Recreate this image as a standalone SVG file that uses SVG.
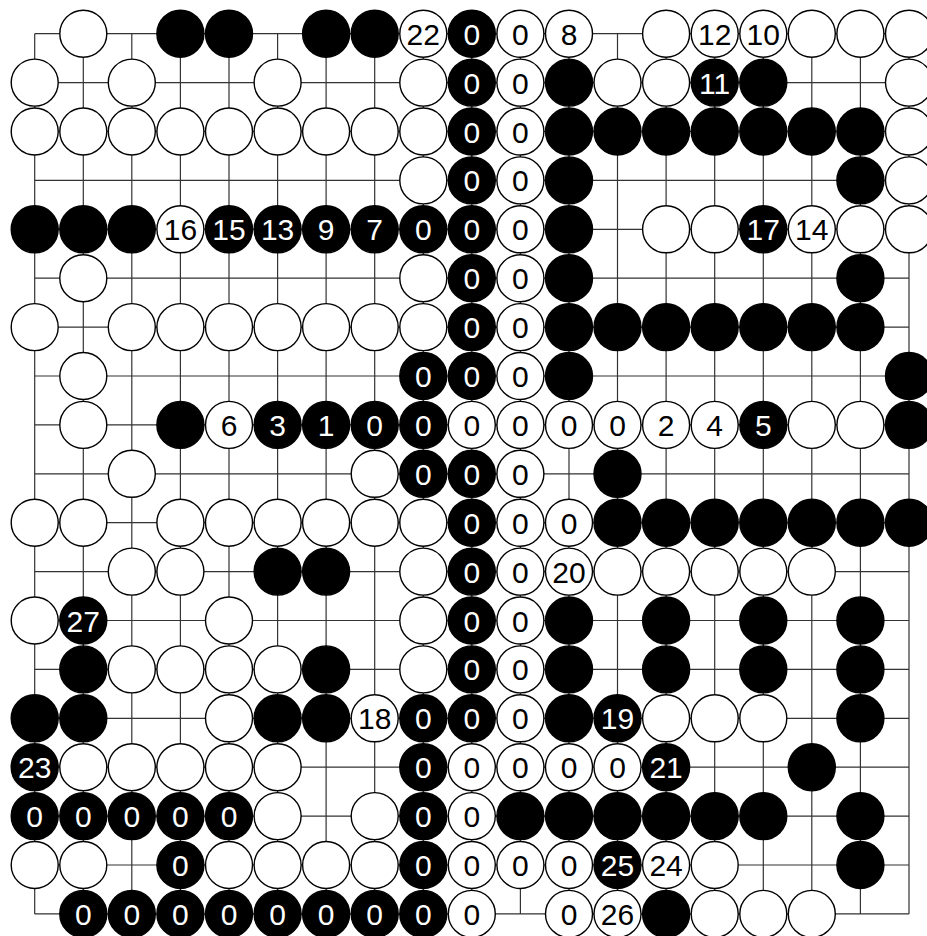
<svg xmlns="http://www.w3.org/2000/svg" width="927" height="936" viewBox="0 0 927 936">
<style>
.w circle{fill:#fff;stroke:#000;stroke-width:1.4}
.b circle{fill:#000;stroke:#000;stroke-width:1.4}
text{font-family:"Liberation Sans",Arial,Helvetica,sans-serif;font-size:30px;text-anchor:middle}
.w text{fill:#000}
.b text{fill:#fff}
#grid path{fill:none;stroke:#333;stroke-width:1.2}
</style>
<defs><circle id="st" r="23.5"/></defs>
<rect width="927" height="936" fill="#fff"/>
<g id="grid">
<path d="M34.7 33.7V913.9M83.3 33.7V913.9M131.8 33.7V913.9M180.4 33.7V913.9M229 33.7V913.9M277.6 33.7V913.9M326.1 33.7V913.9M374.7 33.7V913.9M423.3 33.7V913.9M471.8 33.7V913.9M520.4 33.7V913.9M569 33.7V913.9M617.5 33.7V913.9M666.1 33.7V913.9M714.7 33.7V913.9M763.3 33.7V913.9M811.8 33.7V913.9M860.4 33.7V913.9M909 33.7V913.9"/>
<path d="M34.7 33.7H909M34.7 82.6H909M34.7 131.5H909M34.7 180.4H909M34.7 229.3H909M34.7 278.2H909M34.7 327.1H909M34.7 376H909M34.7 424.9H909M34.7 473.8H909M34.7 522.7H909M34.7 571.6H909M34.7 620.5H909M34.7 669.4H909M34.7 718.3H909M34.7 767.2H909M34.7 816.1H909M34.7 865H909M34.7 913.9H909"/>
</g>
<g id="stones">
<!-- row 1 -->
<g id="r1c2" class="w" transform="translate(83.3,33.7)"><circle r="23.5"/></g>
<g id="r1c4" class="b" transform="translate(180.4,33.7)"><circle r="23.5"/></g>
<g id="r1c5" class="b" transform="translate(229,33.7)"><circle r="23.5"/></g>
<g id="r1c7" class="b" transform="translate(326.1,33.7)"><circle r="23.5"/></g>
<g id="r1c8" class="b" transform="translate(374.7,33.7)"><circle r="23.5"/></g>
<g id="r1c9" class="w" transform="translate(423.3,33.7)"><circle r="23.5"/><text y="11">22</text></g>
<g id="r1c10" class="b" transform="translate(471.8,33.7)"><circle r="23.5"/><text y="11">0</text></g>
<g id="r1c11" class="w" transform="translate(520.4,33.7)"><circle r="23.5"/><text y="11">0</text></g>
<g id="r1c12" class="w" transform="translate(569,33.7)"><circle r="23.5"/><text y="11">8</text></g>
<g id="r1c14" class="w" transform="translate(666.1,33.7)"><circle r="23.5"/></g>
<g id="r1c15" class="w" transform="translate(714.7,33.7)"><circle r="23.5"/><text y="11">12</text></g>
<g id="r1c16" class="w" transform="translate(763.3,33.7)"><circle r="23.5"/><text y="11">10</text></g>
<g id="r1c17" class="w" transform="translate(811.8,33.7)"><circle r="23.5"/></g>
<g id="r1c18" class="w" transform="translate(860.4,33.7)"><circle r="23.5"/></g>
<g id="r1c19" class="w" transform="translate(909,33.7)"><circle r="23.5"/></g>
<!-- row 2 -->
<g id="r2c1" class="w" transform="translate(34.7,82.6)"><circle r="23.5"/></g>
<g id="r2c3" class="w" transform="translate(131.8,82.6)"><circle r="23.5"/></g>
<g id="r2c6" class="w" transform="translate(277.6,82.6)"><circle r="23.5"/></g>
<g id="r2c9" class="w" transform="translate(423.3,82.6)"><circle r="23.5"/></g>
<g id="r2c10" class="b" transform="translate(471.8,82.6)"><circle r="23.5"/><text y="11">0</text></g>
<g id="r2c11" class="w" transform="translate(520.4,82.6)"><circle r="23.5"/><text y="11">0</text></g>
<g id="r2c12" class="b" transform="translate(569,82.6)"><circle r="23.5"/></g>
<g id="r2c13" class="w" transform="translate(617.5,82.6)"><circle r="23.5"/></g>
<g id="r2c14" class="w" transform="translate(666.1,82.6)"><circle r="23.5"/></g>
<g id="r2c15" class="b" transform="translate(714.7,82.6)"><circle r="23.5"/><text y="11">11</text></g>
<g id="r2c16" class="b" transform="translate(763.3,82.6)"><circle r="23.5"/></g>
<g id="r2c19" class="w" transform="translate(909,82.6)"><circle r="23.5"/></g>
<!-- row 3 -->
<g id="r3c1" class="w" transform="translate(34.7,131.5)"><circle r="23.5"/></g>
<g id="r3c2" class="w" transform="translate(83.3,131.5)"><circle r="23.5"/></g>
<g id="r3c3" class="w" transform="translate(131.8,131.5)"><circle r="23.5"/></g>
<g id="r3c4" class="w" transform="translate(180.4,131.5)"><circle r="23.5"/></g>
<g id="r3c5" class="w" transform="translate(229,131.5)"><circle r="23.5"/></g>
<g id="r3c6" class="w" transform="translate(277.6,131.5)"><circle r="23.5"/></g>
<g id="r3c7" class="w" transform="translate(326.1,131.5)"><circle r="23.5"/></g>
<g id="r3c8" class="w" transform="translate(374.7,131.5)"><circle r="23.5"/></g>
<g id="r3c9" class="w" transform="translate(423.3,131.5)"><circle r="23.5"/></g>
<g id="r3c10" class="b" transform="translate(471.8,131.5)"><circle r="23.5"/><text y="11">0</text></g>
<g id="r3c11" class="w" transform="translate(520.4,131.5)"><circle r="23.5"/><text y="11">0</text></g>
<g id="r3c12" class="b" transform="translate(569,131.5)"><circle r="23.5"/></g>
<g id="r3c13" class="b" transform="translate(617.5,131.5)"><circle r="23.5"/></g>
<g id="r3c14" class="b" transform="translate(666.1,131.5)"><circle r="23.5"/></g>
<g id="r3c15" class="b" transform="translate(714.7,131.5)"><circle r="23.5"/></g>
<g id="r3c16" class="b" transform="translate(763.3,131.5)"><circle r="23.5"/></g>
<g id="r3c17" class="b" transform="translate(811.8,131.5)"><circle r="23.5"/></g>
<g id="r3c18" class="b" transform="translate(860.4,131.5)"><circle r="23.5"/></g>
<g id="r3c19" class="w" transform="translate(909,131.5)"><circle r="23.5"/></g>
<!-- row 4 -->
<g id="r4c9" class="w" transform="translate(423.3,180.4)"><circle r="23.5"/></g>
<g id="r4c10" class="b" transform="translate(471.8,180.4)"><circle r="23.5"/><text y="11">0</text></g>
<g id="r4c11" class="w" transform="translate(520.4,180.4)"><circle r="23.5"/><text y="11">0</text></g>
<g id="r4c12" class="b" transform="translate(569,180.4)"><circle r="23.5"/></g>
<g id="r4c18" class="b" transform="translate(860.4,180.4)"><circle r="23.5"/></g>
<g id="r4c19" class="w" transform="translate(909,180.4)"><circle r="23.5"/></g>
<!-- row 5 -->
<g id="r5c1" class="b" transform="translate(34.7,229.3)"><circle r="23.5"/></g>
<g id="r5c2" class="b" transform="translate(83.3,229.3)"><circle r="23.5"/></g>
<g id="r5c3" class="b" transform="translate(131.8,229.3)"><circle r="23.5"/></g>
<g id="r5c4" class="w" transform="translate(180.4,229.3)"><circle r="23.5"/><text y="11">16</text></g>
<g id="r5c5" class="b" transform="translate(229,229.3)"><circle r="23.5"/><text y="11">15</text></g>
<g id="r5c6" class="b" transform="translate(277.6,229.3)"><circle r="23.5"/><text y="11">13</text></g>
<g id="r5c7" class="b" transform="translate(326.1,229.3)"><circle r="23.5"/><text y="11">9</text></g>
<g id="r5c8" class="b" transform="translate(374.7,229.3)"><circle r="23.5"/><text y="11">7</text></g>
<g id="r5c9" class="b" transform="translate(423.3,229.3)"><circle r="23.5"/><text y="11">0</text></g>
<g id="r5c10" class="b" transform="translate(471.8,229.3)"><circle r="23.5"/><text y="11">0</text></g>
<g id="r5c11" class="w" transform="translate(520.4,229.3)"><circle r="23.5"/><text y="11">0</text></g>
<g id="r5c12" class="b" transform="translate(569,229.3)"><circle r="23.5"/></g>
<g id="r5c14" class="w" transform="translate(666.1,229.3)"><circle r="23.5"/></g>
<g id="r5c15" class="w" transform="translate(714.7,229.3)"><circle r="23.5"/></g>
<g id="r5c16" class="b" transform="translate(763.3,229.3)"><circle r="23.5"/><text y="11">17</text></g>
<g id="r5c17" class="w" transform="translate(811.8,229.3)"><circle r="23.5"/><text y="11">14</text></g>
<g id="r5c18" class="w" transform="translate(860.4,229.3)"><circle r="23.5"/></g>
<g id="r5c19" class="w" transform="translate(909,229.3)"><circle r="23.5"/></g>
<!-- row 6 -->
<g id="r6c2" class="w" transform="translate(83.3,278.2)"><circle r="23.5"/></g>
<g id="r6c9" class="w" transform="translate(423.3,278.2)"><circle r="23.5"/></g>
<g id="r6c10" class="b" transform="translate(471.8,278.2)"><circle r="23.5"/><text y="11">0</text></g>
<g id="r6c11" class="w" transform="translate(520.4,278.2)"><circle r="23.5"/><text y="11">0</text></g>
<g id="r6c12" class="b" transform="translate(569,278.2)"><circle r="23.5"/></g>
<g id="r6c18" class="b" transform="translate(860.4,278.2)"><circle r="23.5"/></g>
<!-- row 7 -->
<g id="r7c1" class="w" transform="translate(34.7,327.1)"><circle r="23.5"/></g>
<g id="r7c3" class="w" transform="translate(131.8,327.1)"><circle r="23.5"/></g>
<g id="r7c4" class="w" transform="translate(180.4,327.1)"><circle r="23.5"/></g>
<g id="r7c5" class="w" transform="translate(229,327.1)"><circle r="23.5"/></g>
<g id="r7c6" class="w" transform="translate(277.6,327.1)"><circle r="23.5"/></g>
<g id="r7c7" class="w" transform="translate(326.1,327.1)"><circle r="23.5"/></g>
<g id="r7c8" class="w" transform="translate(374.7,327.1)"><circle r="23.5"/></g>
<g id="r7c9" class="w" transform="translate(423.3,327.1)"><circle r="23.5"/></g>
<g id="r7c10" class="b" transform="translate(471.8,327.1)"><circle r="23.5"/><text y="11">0</text></g>
<g id="r7c11" class="w" transform="translate(520.4,327.1)"><circle r="23.5"/><text y="11">0</text></g>
<g id="r7c12" class="b" transform="translate(569,327.1)"><circle r="23.5"/></g>
<g id="r7c13" class="b" transform="translate(617.5,327.1)"><circle r="23.5"/></g>
<g id="r7c14" class="b" transform="translate(666.1,327.1)"><circle r="23.5"/></g>
<g id="r7c15" class="b" transform="translate(714.7,327.1)"><circle r="23.5"/></g>
<g id="r7c16" class="b" transform="translate(763.3,327.1)"><circle r="23.5"/></g>
<g id="r7c17" class="b" transform="translate(811.8,327.1)"><circle r="23.5"/></g>
<g id="r7c18" class="b" transform="translate(860.4,327.1)"><circle r="23.5"/></g>
<!-- row 8 -->
<g id="r8c2" class="w" transform="translate(83.3,376)"><circle r="23.5"/></g>
<g id="r8c9" class="b" transform="translate(423.3,376)"><circle r="23.5"/><text y="11">0</text></g>
<g id="r8c10" class="b" transform="translate(471.8,376)"><circle r="23.5"/><text y="11">0</text></g>
<g id="r8c11" class="w" transform="translate(520.4,376)"><circle r="23.5"/><text y="11">0</text></g>
<g id="r8c12" class="b" transform="translate(569,376)"><circle r="23.5"/></g>
<g id="r8c19" class="b" transform="translate(909,376)"><circle r="23.5"/></g>
<!-- row 9 -->
<g id="r9c2" class="w" transform="translate(83.3,424.9)"><circle r="23.5"/></g>
<g id="r9c4" class="b" transform="translate(180.4,424.9)"><circle r="23.5"/></g>
<g id="r9c5" class="w" transform="translate(229,424.9)"><circle r="23.5"/><text y="11">6</text></g>
<g id="r9c6" class="b" transform="translate(277.6,424.9)"><circle r="23.5"/><text y="11">3</text></g>
<g id="r9c7" class="b" transform="translate(326.1,424.9)"><circle r="23.5"/><text y="11">1</text></g>
<g id="r9c8" class="b" transform="translate(374.7,424.9)"><circle r="23.5"/><text y="11">0</text></g>
<g id="r9c9" class="b" transform="translate(423.3,424.9)"><circle r="23.5"/><text y="11">0</text></g>
<g id="r9c10" class="w" transform="translate(471.8,424.9)"><circle r="23.5"/><text y="11">0</text></g>
<g id="r9c11" class="w" transform="translate(520.4,424.9)"><circle r="23.5"/><text y="11">0</text></g>
<g id="r9c12" class="w" transform="translate(569,424.9)"><circle r="23.5"/><text y="11">0</text></g>
<g id="r9c13" class="w" transform="translate(617.5,424.9)"><circle r="23.5"/><text y="11">0</text></g>
<g id="r9c14" class="w" transform="translate(666.1,424.9)"><circle r="23.5"/><text y="11">2</text></g>
<g id="r9c15" class="w" transform="translate(714.7,424.9)"><circle r="23.5"/><text y="11">4</text></g>
<g id="r9c16" class="b" transform="translate(763.3,424.9)"><circle r="23.5"/><text y="11">5</text></g>
<g id="r9c17" class="w" transform="translate(811.8,424.9)"><circle r="23.5"/></g>
<g id="r9c18" class="w" transform="translate(860.4,424.9)"><circle r="23.5"/></g>
<g id="r9c19" class="b" transform="translate(909,424.9)"><circle r="23.5"/></g>
<!-- row 10 -->
<g id="r10c3" class="w" transform="translate(131.8,473.8)"><circle r="23.5"/></g>
<g id="r10c8" class="w" transform="translate(374.7,473.8)"><circle r="23.5"/></g>
<g id="r10c9" class="b" transform="translate(423.3,473.8)"><circle r="23.5"/><text y="11">0</text></g>
<g id="r10c10" class="b" transform="translate(471.8,473.8)"><circle r="23.5"/><text y="11">0</text></g>
<g id="r10c11" class="w" transform="translate(520.4,473.8)"><circle r="23.5"/><text y="11">0</text></g>
<g id="r10c13" class="b" transform="translate(617.5,473.8)"><circle r="23.5"/></g>
<!-- row 11 -->
<g id="r11c1" class="w" transform="translate(34.7,522.7)"><circle r="23.5"/></g>
<g id="r11c2" class="w" transform="translate(83.3,522.7)"><circle r="23.5"/></g>
<g id="r11c4" class="w" transform="translate(180.4,522.7)"><circle r="23.5"/></g>
<g id="r11c5" class="w" transform="translate(229,522.7)"><circle r="23.5"/></g>
<g id="r11c6" class="w" transform="translate(277.6,522.7)"><circle r="23.5"/></g>
<g id="r11c7" class="w" transform="translate(326.1,522.7)"><circle r="23.5"/></g>
<g id="r11c8" class="w" transform="translate(374.7,522.7)"><circle r="23.5"/></g>
<g id="r11c9" class="w" transform="translate(423.3,522.7)"><circle r="23.5"/></g>
<g id="r11c10" class="b" transform="translate(471.8,522.7)"><circle r="23.5"/><text y="11">0</text></g>
<g id="r11c11" class="w" transform="translate(520.4,522.7)"><circle r="23.5"/><text y="11">0</text></g>
<g id="r11c12" class="w" transform="translate(569,522.7)"><circle r="23.5"/><text y="11">0</text></g>
<g id="r11c13" class="b" transform="translate(617.5,522.7)"><circle r="23.5"/></g>
<g id="r11c14" class="b" transform="translate(666.1,522.7)"><circle r="23.5"/></g>
<g id="r11c15" class="b" transform="translate(714.7,522.7)"><circle r="23.5"/></g>
<g id="r11c16" class="b" transform="translate(763.3,522.7)"><circle r="23.5"/></g>
<g id="r11c17" class="b" transform="translate(811.8,522.7)"><circle r="23.5"/></g>
<g id="r11c18" class="b" transform="translate(860.4,522.7)"><circle r="23.5"/></g>
<g id="r11c19" class="b" transform="translate(909,522.7)"><circle r="23.5"/></g>
<!-- row 12 -->
<g id="r12c3" class="w" transform="translate(131.8,571.6)"><circle r="23.5"/></g>
<g id="r12c4" class="w" transform="translate(180.4,571.6)"><circle r="23.5"/></g>
<g id="r12c6" class="b" transform="translate(277.6,571.6)"><circle r="23.5"/></g>
<g id="r12c7" class="b" transform="translate(326.1,571.6)"><circle r="23.5"/></g>
<g id="r12c9" class="w" transform="translate(423.3,571.6)"><circle r="23.5"/></g>
<g id="r12c10" class="b" transform="translate(471.8,571.6)"><circle r="23.5"/><text y="11">0</text></g>
<g id="r12c11" class="w" transform="translate(520.4,571.6)"><circle r="23.5"/><text y="11">0</text></g>
<g id="r12c12" class="w" transform="translate(569,571.6)"><circle r="23.5"/><text y="11">20</text></g>
<g id="r12c13" class="w" transform="translate(617.5,571.6)"><circle r="23.5"/></g>
<g id="r12c14" class="w" transform="translate(666.1,571.6)"><circle r="23.5"/></g>
<g id="r12c15" class="w" transform="translate(714.7,571.6)"><circle r="23.5"/></g>
<g id="r12c16" class="w" transform="translate(763.3,571.6)"><circle r="23.5"/></g>
<g id="r12c17" class="w" transform="translate(811.8,571.6)"><circle r="23.5"/></g>
<!-- row 13 -->
<g id="r13c1" class="w" transform="translate(34.7,620.5)"><circle r="23.5"/></g>
<g id="r13c2" class="b" transform="translate(83.3,620.5)"><circle r="23.5"/><text y="11">27</text></g>
<g id="r13c5" class="w" transform="translate(229,620.5)"><circle r="23.5"/></g>
<g id="r13c9" class="w" transform="translate(423.3,620.5)"><circle r="23.5"/></g>
<g id="r13c10" class="b" transform="translate(471.8,620.5)"><circle r="23.5"/><text y="11">0</text></g>
<g id="r13c11" class="w" transform="translate(520.4,620.5)"><circle r="23.5"/><text y="11">0</text></g>
<g id="r13c12" class="b" transform="translate(569,620.5)"><circle r="23.5"/></g>
<g id="r13c14" class="b" transform="translate(666.1,620.5)"><circle r="23.5"/></g>
<g id="r13c16" class="b" transform="translate(763.3,620.5)"><circle r="23.5"/></g>
<g id="r13c18" class="b" transform="translate(860.4,620.5)"><circle r="23.5"/></g>
<!-- row 14 -->
<g id="r14c2" class="b" transform="translate(83.3,669.4)"><circle r="23.5"/></g>
<g id="r14c3" class="w" transform="translate(131.8,669.4)"><circle r="23.5"/></g>
<g id="r14c4" class="w" transform="translate(180.4,669.4)"><circle r="23.5"/></g>
<g id="r14c5" class="w" transform="translate(229,669.4)"><circle r="23.5"/></g>
<g id="r14c6" class="w" transform="translate(277.6,669.4)"><circle r="23.5"/></g>
<g id="r14c7" class="b" transform="translate(326.1,669.4)"><circle r="23.5"/></g>
<g id="r14c9" class="w" transform="translate(423.3,669.4)"><circle r="23.5"/></g>
<g id="r14c10" class="b" transform="translate(471.8,669.4)"><circle r="23.5"/><text y="11">0</text></g>
<g id="r14c11" class="w" transform="translate(520.4,669.4)"><circle r="23.5"/><text y="11">0</text></g>
<g id="r14c12" class="b" transform="translate(569,669.4)"><circle r="23.5"/></g>
<g id="r14c14" class="b" transform="translate(666.1,669.4)"><circle r="23.5"/></g>
<g id="r14c16" class="b" transform="translate(763.3,669.4)"><circle r="23.5"/></g>
<g id="r14c18" class="b" transform="translate(860.4,669.4)"><circle r="23.5"/></g>
<!-- row 15 -->
<g id="r15c1" class="b" transform="translate(34.7,718.3)"><circle r="23.5"/></g>
<g id="r15c2" class="b" transform="translate(83.3,718.3)"><circle r="23.5"/></g>
<g id="r15c5" class="w" transform="translate(229,718.3)"><circle r="23.5"/></g>
<g id="r15c6" class="b" transform="translate(277.6,718.3)"><circle r="23.5"/></g>
<g id="r15c7" class="b" transform="translate(326.1,718.3)"><circle r="23.5"/></g>
<g id="r15c8" class="w" transform="translate(374.7,718.3)"><circle r="23.5"/><text y="11">18</text></g>
<g id="r15c9" class="b" transform="translate(423.3,718.3)"><circle r="23.5"/><text y="11">0</text></g>
<g id="r15c10" class="b" transform="translate(471.8,718.3)"><circle r="23.5"/><text y="11">0</text></g>
<g id="r15c11" class="w" transform="translate(520.4,718.3)"><circle r="23.5"/><text y="11">0</text></g>
<g id="r15c12" class="b" transform="translate(569,718.3)"><circle r="23.5"/></g>
<g id="r15c13" class="b" transform="translate(617.5,718.3)"><circle r="23.5"/><text y="11">19</text></g>
<g id="r15c14" class="w" transform="translate(666.1,718.3)"><circle r="23.5"/></g>
<g id="r15c15" class="w" transform="translate(714.7,718.3)"><circle r="23.5"/></g>
<g id="r15c16" class="w" transform="translate(763.3,718.3)"><circle r="23.5"/></g>
<g id="r15c18" class="b" transform="translate(860.4,718.3)"><circle r="23.5"/></g>
<!-- row 16 -->
<g id="r16c1" class="b" transform="translate(34.7,767.2)"><circle r="23.5"/><text y="11">23</text></g>
<g id="r16c2" class="w" transform="translate(83.3,767.2)"><circle r="23.5"/></g>
<g id="r16c3" class="w" transform="translate(131.8,767.2)"><circle r="23.5"/></g>
<g id="r16c4" class="w" transform="translate(180.4,767.2)"><circle r="23.5"/></g>
<g id="r16c5" class="w" transform="translate(229,767.2)"><circle r="23.5"/></g>
<g id="r16c6" class="w" transform="translate(277.6,767.2)"><circle r="23.5"/></g>
<g id="r16c9" class="b" transform="translate(423.3,767.2)"><circle r="23.5"/><text y="11">0</text></g>
<g id="r16c10" class="w" transform="translate(471.8,767.2)"><circle r="23.5"/><text y="11">0</text></g>
<g id="r16c11" class="w" transform="translate(520.4,767.2)"><circle r="23.5"/><text y="11">0</text></g>
<g id="r16c12" class="w" transform="translate(569,767.2)"><circle r="23.5"/><text y="11">0</text></g>
<g id="r16c13" class="w" transform="translate(617.5,767.2)"><circle r="23.5"/><text y="11">0</text></g>
<g id="r16c14" class="b" transform="translate(666.1,767.2)"><circle r="23.5"/><text y="11">21</text></g>
<g id="r16c17" class="b" transform="translate(811.8,767.2)"><circle r="23.5"/></g>
<!-- row 17 -->
<g id="r17c1" class="b" transform="translate(34.7,816.1)"><circle r="23.5"/><text y="11">0</text></g>
<g id="r17c2" class="b" transform="translate(83.3,816.1)"><circle r="23.5"/><text y="11">0</text></g>
<g id="r17c3" class="b" transform="translate(131.8,816.1)"><circle r="23.5"/><text y="11">0</text></g>
<g id="r17c4" class="b" transform="translate(180.4,816.1)"><circle r="23.5"/><text y="11">0</text></g>
<g id="r17c5" class="b" transform="translate(229,816.1)"><circle r="23.5"/><text y="11">0</text></g>
<g id="r17c6" class="w" transform="translate(277.6,816.1)"><circle r="23.5"/></g>
<g id="r17c8" class="w" transform="translate(374.7,816.1)"><circle r="23.5"/></g>
<g id="r17c9" class="b" transform="translate(423.3,816.1)"><circle r="23.5"/><text y="11">0</text></g>
<g id="r17c10" class="w" transform="translate(471.8,816.1)"><circle r="23.5"/><text y="11">0</text></g>
<g id="r17c11" class="b" transform="translate(520.4,816.1)"><circle r="23.5"/></g>
<g id="r17c12" class="b" transform="translate(569,816.1)"><circle r="23.5"/></g>
<g id="r17c13" class="b" transform="translate(617.5,816.1)"><circle r="23.5"/></g>
<g id="r17c14" class="b" transform="translate(666.1,816.1)"><circle r="23.5"/></g>
<g id="r17c15" class="b" transform="translate(714.7,816.1)"><circle r="23.5"/></g>
<g id="r17c16" class="b" transform="translate(763.3,816.1)"><circle r="23.5"/></g>
<g id="r17c18" class="b" transform="translate(860.4,816.1)"><circle r="23.5"/></g>
<!-- row 18 -->
<g id="r18c1" class="w" transform="translate(34.7,865)"><circle r="23.5"/></g>
<g id="r18c2" class="w" transform="translate(83.3,865)"><circle r="23.5"/></g>
<g id="r18c4" class="b" transform="translate(180.4,865)"><circle r="23.5"/><text y="11">0</text></g>
<g id="r18c5" class="w" transform="translate(229,865)"><circle r="23.5"/></g>
<g id="r18c6" class="w" transform="translate(277.6,865)"><circle r="23.5"/></g>
<g id="r18c7" class="w" transform="translate(326.1,865)"><circle r="23.5"/></g>
<g id="r18c8" class="w" transform="translate(374.7,865)"><circle r="23.5"/></g>
<g id="r18c9" class="b" transform="translate(423.3,865)"><circle r="23.5"/><text y="11">0</text></g>
<g id="r18c10" class="w" transform="translate(471.8,865)"><circle r="23.5"/><text y="11">0</text></g>
<g id="r18c11" class="w" transform="translate(520.4,865)"><circle r="23.5"/><text y="11">0</text></g>
<g id="r18c12" class="w" transform="translate(569,865)"><circle r="23.5"/><text y="11">0</text></g>
<g id="r18c13" class="b" transform="translate(617.5,865)"><circle r="23.5"/><text y="11">25</text></g>
<g id="r18c14" class="w" transform="translate(666.1,865)"><circle r="23.5"/><text y="11">24</text></g>
<g id="r18c15" class="w" transform="translate(714.7,865)"><circle r="23.5"/></g>
<g id="r18c18" class="b" transform="translate(860.4,865)"><circle r="23.5"/></g>
<!-- row 19 -->
<g id="r19c2" class="b" transform="translate(83.3,913.9)"><circle r="23.5"/><text y="11">0</text></g>
<g id="r19c3" class="b" transform="translate(131.8,913.9)"><circle r="23.5"/><text y="11">0</text></g>
<g id="r19c4" class="b" transform="translate(180.4,913.9)"><circle r="23.5"/><text y="11">0</text></g>
<g id="r19c5" class="b" transform="translate(229,913.9)"><circle r="23.5"/><text y="11">0</text></g>
<g id="r19c6" class="b" transform="translate(277.6,913.9)"><circle r="23.5"/><text y="11">0</text></g>
<g id="r19c7" class="b" transform="translate(326.1,913.9)"><circle r="23.5"/><text y="11">0</text></g>
<g id="r19c8" class="b" transform="translate(374.7,913.9)"><circle r="23.5"/><text y="11">0</text></g>
<g id="r19c9" class="b" transform="translate(423.3,913.9)"><circle r="23.5"/><text y="11">0</text></g>
<g id="r19c10" class="w" transform="translate(471.8,913.9)"><circle r="23.5"/><text y="11">0</text></g>
<g id="r19c12" class="w" transform="translate(569,913.9)"><circle r="23.5"/><text y="11">0</text></g>
<g id="r19c13" class="w" transform="translate(617.5,913.9)"><circle r="23.5"/><text y="11">26</text></g>
<g id="r19c14" class="b" transform="translate(666.1,913.9)"><circle r="23.5"/></g>
<g id="r19c15" class="w" transform="translate(714.7,913.9)"><circle r="23.5"/></g>
<g id="r19c16" class="w" transform="translate(763.3,913.9)"><circle r="23.5"/></g>
<g id="r19c17" class="w" transform="translate(811.8,913.9)"><circle r="23.5"/></g>
</g>
</svg>
